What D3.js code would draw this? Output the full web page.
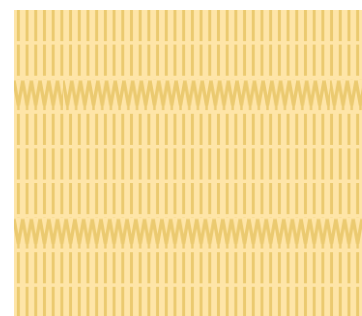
<!DOCTYPE html>
<html>
<head>
<meta charset="utf-8">
<script src="https://cdn.jsdelivr.net/npm/d3@7/dist/d3.min.js"></script>
<style>
html,body{margin:0;padding:0;background:#fff;}
svg{display:block;}
</style>
</head>
<body>
<svg id="chart" width="362" height="316"></svg>
<script>
// Data
const rows = ["A","B","C","D","E","F","G","H","I"];
const rowPatterns = ["lines","lines","zigzag","lines","lines","lines","zigzag","lines","lines"];
// segment boundaries (percent of full width) for each row
const rowSegments = [
  [0,100],[0,100],[0,14.1,90.8,100],[0,100],[0,100],[0,100],[0,100],[0,100],[0,100]
];

(function(){
const W = 362, H = 316;
const mLeft = 14, mTop = 10;
const svg = d3.select("#chart");

const x = d3.scaleLinear().domain([0,100]).range([mLeft, W]);
const y = d3.scaleBand().domain(rows).range([mTop, mTop + 34.6*8.9]).paddingInner(0.1).paddingOuter(0);

const bg = "#fee5a8", ink = "#ebca70";
const period = 8.7;

svg.append("rect").attr("x", mLeft).attr("y", mTop).attr("width", W-mLeft).attr("height", H-mTop).attr("fill", bg);

const defs = svg.append("defs");
const bw = y.bandwidth();

rows.forEach((r,i) => {
  const segs = rowSegments[i];
  for (let s = 0; s < segs.length-1; s++) {
    const x0 = x(segs[s]), x1 = x(segs[s+1]);
    const id = `p${i}_${s}`;
    const y0 = y(r);
    const pat = defs.append("pattern").attr("id", id)
      .attr("patternUnits","userSpaceOnUse")
      .attr("x", x0).attr("y", y0)
      .attr("width", period).attr("height", bw);
    if (rowPatterns[i] === "lines") {
      pat.append("rect").attr("x", period/2-1.5).attr("y",0).attr("width",3).attr("height",bw).attr("fill",ink);
    } else {
      pat.append("path")
        .attr("d", `M0,1.5L${period/2},${bw-5}L${period},1.5`)
        .attr("fill","none").attr("stroke",ink).attr("stroke-width",3.3).attr("stroke-linejoin","miter");
      pat.append("rect").attr("x", period/2-1.2).attr("y", bw-7).attr("width",2.4).attr("height",7).attr("fill",ink);
    }
    svg.append("rect")
      .attr("x", x0).attr("y", y0)
      .attr("width", x1-x0).attr("height", bw)
      .attr("fill", `url(#${id})`);
  }
});
})();
</script>
</body>
</html>
